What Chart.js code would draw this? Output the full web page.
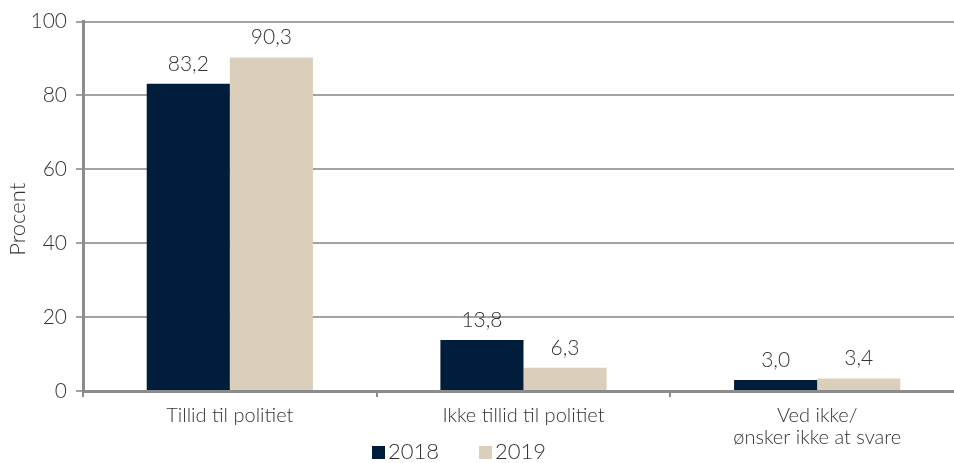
<!DOCTYPE html>
<html>
<head>
<meta charset="utf-8">
<script src="https://cdn.jsdelivr.net/npm/chart.js@4"></script>
<style>
  html, body { margin: 0; padding: 0; overflow: hidden; background: #fff; }
  #wrap { position: relative; width: 954px; height: 463px; overflow: hidden; }
  #legend { position: absolute; top: 0; left: 0; font: 300 22px Lato, sans-serif; color: #333; }
  #legend .item { position: absolute; top: 437px; white-space: nowrap; }
  #legend .box { display: inline-block; width: 13px; height: 13px; margin-right: 3px; vertical-align: 0px; }
</style>
</head>
<body>
<div id="wrap">
  <canvas id="chart" width="964" height="463"></canvas>
  <div id="legend"></div>
</div>
<script>
// Data
const categories = ['Tillid til politiet', 'Ikke tillid til politiet', ['Ved ikke/', 'ønsker ikke at svare']];
const seriesNames = ['2018', '2019'];
const values2018 = [83.2, 13.8, 3.0];
const values2019 = [90.3, 6.3, 3.4];
const yTicks = [0, 20, 40, 60, 80, 100];
const yTitle = 'Procent';

const colors = ['#001e3c', '#dbcfbc'];
const fontFamily = 'Lato, sans-serif';

// Tal over søjlerne (komma som decimaltegn) og y-aksens titel
const valueLabels = {
    id: 'valueLabels',
    afterDatasetsDraw(chart) {
        const ctx = chart.ctx;
        ctx.save();
        ctx.font = '300 21px ' + fontFamily;
        ctx.fillStyle = '#333';
        ctx.textAlign = 'center';
        ctx.textBaseline = 'alphabetic';
        chart.data.datasets.forEach((ds, i) => {
            chart.getDatasetMeta(i).data.forEach((bar, j) => {
                const txt = ds.data[j].toFixed(1).replace('.', ',');
                ctx.fillText(txt, bar.x, bar.y - 13);
            });
        });
        // titel på y-aksen, lidt under midten som i originalen
        ctx.font = '300 22px ' + fontFamily;
        ctx.translate(18, chart.chartArea.top + chart.chartArea.height / 2 + 13);
        ctx.rotate(-Math.PI / 2);
        ctx.textBaseline = 'middle';
        ctx.fillText(yTitle, 0, 0);
        ctx.restore();
    }
};

new Chart(document.getElementById('chart'), {
    type: 'bar',
    data: {
        labels: categories,
        datasets: [{
            label: seriesNames[0],
            data: values2018,
            backgroundColor: colors[0]
        }, {
            label: seriesNames[1],
            data: values2019,
            backgroundColor: colors[1]
        }]
    },
    options: {
        responsive: false,
        animation: false,
        categoryPercentage: 0.566,
        barPercentage: 1.0,
        layout: { padding: { top: 17, right: 0, left: 0, bottom: 0 } },
        plugins: {
            legend: { display: false },
            tooltip: { enabled: false }
        },
        scales: {
            x: {
                grid: {
                    offset: true,
                    drawOnChartArea: false,
                    color: '#8c8c8c',
                    lineWidth: 2,
                    tickLength: 6
                },
                border: { color: '#8c8c8c', width: 3 },
                ticks: {
                    color: '#333',
                    font: { family: fontFamily, size: 20, weight: 300, lineHeight: 1.1 },
                    padding: 8,
                    maxRotation: 0
                },
                afterFit(scale) { scale.height = 72; }
            },
            y: {
                min: 0,
                max: 100,
                afterBuildTicks(scale) { scale.ticks = yTicks.map(v => ({ value: v })); },
                grid: {
                    color: '#a3a3a3',
                    lineWidth: 2,
                    tickLength: 7
                },
                border: { color: '#8c8c8c', width: 3 },
                ticks: {
                    color: '#333',
                    font: { family: fontFamily, size: 21, weight: 300 },
                    padding: 9
                },
                afterFit(scale) { scale.width = 83; }
            }
        }
    },
    plugins: [valueLabels]
});

// HTML-forklaring under diagrammet
const legendLeft = [372, 479];
document.getElementById('legend').innerHTML = seriesNames.map((name, i) =>
    '<span class="item" style="left:' + legendLeft[i] + 'px"><span class="box" style="background:' + colors[i] + '"></span>' + name + '</span>'
).join('');
</script>
</body>
</html>
